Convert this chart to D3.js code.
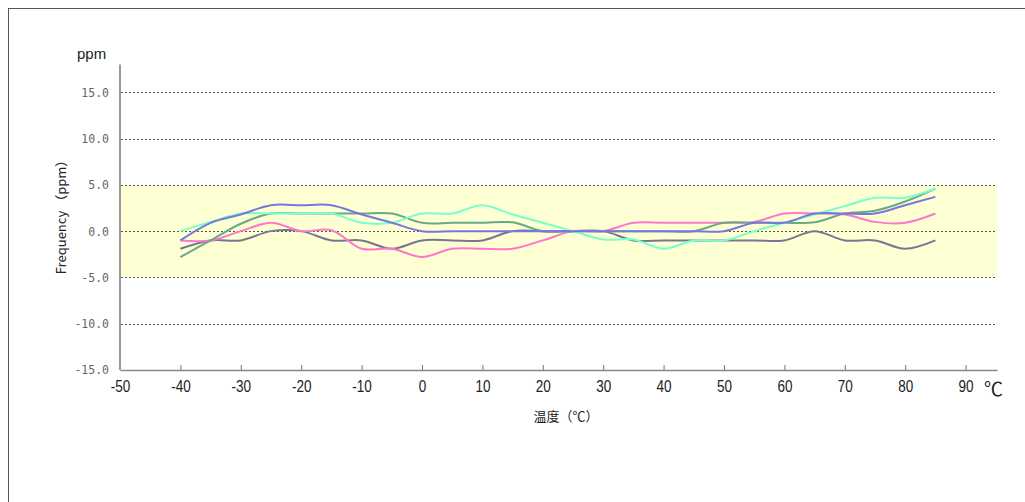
<!DOCTYPE html>
<html>
<head>
<meta charset="utf-8">
<script src="https://cdn.jsdelivr.net/npm/d3@7.9.0/dist/d3.min.js"></script>
<style>
  html, body { margin: 0; padding: 0; background: #fff; }
  svg { display: block; }
</style>
</head>
<body>
<svg id="chart" width="1025" height="502"></svg>
<script>
// temperatures (°C) where each sample was taken
const temps = [-40, -35, -30, -25, -20, -15, -10, -5, 0, 5, 10, 15, 20, 25, 30, 35, 40, 45, 50, 55, 60, 65, 70, 75, 80, 85];

// frequency deviation (ppm) for each sample
const seriesBlue  = [-1, 0.9, 1.8, 2.8, 2.8, 2.8, 1.8, 0.9, 0, 0, 0, 0, 0, 0, 0, 0, 0, 0, 0, 0.9, 0.9, 1.9, 1.9, 1.9, 2.8, 3.7];
const seriesAqua  = [0, 1, 1.9, 1.9, 1.9, 1.9, 0.9, 0.9, 1.9, 1.9, 2.8, 1.8, 0.9, 0, -0.9, -0.9, -1.9, -1, -1, 0, 0.9, 1.8, 2.7, 3.6, 3.6, 4.6];
const seriesGreen = [-2.8, -1, 0.8, 1.9, 1.9, 1.9, 1.9, 1.9, 0.9, 0.9, 0.9, 0.95, 0, 0, 0, 0, 0, 0, 0.9, 0.9, 0.9, 0.95, 1.9, 2.2, 3.2, 4.6];
const seriesPink  = [-1, -1, 0, 0.9, 0, 0.1, -1.9, -1.9, -2.8, -1.9, -1.9, -1.9, -1, 0, 0, 0.9, 0.9, 0.9, 0.9, 1.0, 1.9, 1.9, 1.8, 1.0, 0.9, 1.9];
const seriesGray  = [-1.9, -1, -1, 0, 0, -1, -1, -1.9, -1, -1, -1, 0, 0, 0, 0, -1, -1, -1, -1, -1, -1, 0, -1, -1, -1.9, -1];

const xTicks = [-50, -40, -30, -20, -10, 0, 10, 20, 30, 40, 50, 60, 70, 80, 90];
const yTicks = [-15, -10, -5, 0, 5, 10, 15];
const bandRange = [-5, 5];

const series = [
  { values: seriesGray,  color: '#77778f' },
  { values: seriesPink,  color: '#ff77cc' },
  { values: seriesGreen, color: '#66aa88' },
  { values: seriesAqua,  color: '#77ffcc' },
  { values: seriesBlue,  color: '#7878dc' },
];

const svg = d3.select('#chart');

// outer frame
svg.append('rect')
  .attr('x', 8.5).attr('y', 8.5)
  .attr('width', 1100).attr('height', 600)
  .attr('fill', 'none')
  .attr('stroke', '#555')
  .attr('stroke-width', 1);

const x = d3.scaleLinear().domain([-50, 95.2]).range([120, 997]);
const y = d3.scaleLinear().domain([-15, 18]).range([370, 64.5]);

// tolerance band
svg.append('rect')
  .attr('x', x(-50) + 1)
  .attr('y', y(bandRange[1]))
  .attr('width', x(95.2) - x(-50) - 1)
  .attr('height', y(bandRange[0]) - y(bandRange[1]))
  .attr('fill', '#ffffd4');

// dashed grid lines
svg.append('g')
  .selectAll('line')
  .data(yTicks.filter(d => d > -15))
  .join('line')
  .attr('x1', x(-50) + 1)
  .attr('x2', x(95.2))
  .attr('y1', d => Math.round(y(d)) + 0.5)
  .attr('y2', d => Math.round(y(d)) + 0.5)
  .attr('stroke', '#555')
  .attr('stroke-width', 1)
  .attr('stroke-dasharray', '2,2');

// lines
const line = d3.line()
  .x((d, i) => x(temps[i]))
  .y(d => y(d))
  .curve(d3.curveCatmullRom.alpha(0.5));

svg.append('g')
  .selectAll('path')
  .data(series)
  .join('path')
  .attr('d', d => line(d.values))
  .attr('fill', 'none')
  .attr('stroke', d => d.color)
  .attr('stroke-width', 2)
  .attr('stroke-linejoin', 'round');

// x axis
const xAxis = svg.append('g')
  .attr('transform', `translate(0,${y(-15)})`)
  .call(d3.axisBottom(x).tickValues(xTicks).tickSize(-5).tickSizeOuter(0).tickFormat(d => d));

xAxis.select('.domain').attr('stroke', '#888').attr('stroke-width', 1.5);
xAxis.selectAll('.tick line').attr('stroke', '#777');
xAxis.selectAll('.tick text')
  .attr('y', 17.6)
  .attr('dy', 0)
  .attr('transform', 'scale(1,1.25)')
  .attr('fill', '#222')
  .style('font-family', '"Liberation Sans", Arial, sans-serif')
  .style('font-size', '13.5px');

// y axis line
svg.append('line')
  .attr('x1', x(-50)).attr('x2', x(-50))
  .attr('y1', y(18)).attr('y2', y(-15))
  .attr('stroke', '#999')
  .attr('stroke-width', 2);

// y tick labels
svg.append('g')
  .selectAll('text')
  .data(yTicks)
  .join('text')
  .attr('x', 109)
  .attr('y', d => y(d))
  .attr('dy', '0.38em')
  .attr('text-anchor', 'end')
  .attr('fill', '#666')
  .style('font-family', '"DejaVu Sans Mono", "Liberation Mono", monospace')
  .style('font-size', '11.5px')
  .text(d => d.toFixed(1));

// axis titles
svg.append('text')
  .attr('x', 77).attr('y', 59)
  .attr('fill', '#222')
  .style('font-family', '"Liberation Sans", Arial, sans-serif')
  .style('font-size', '15px')
  .text('ppm');

svg.append('text')
  .attr('transform', 'translate(66,214) rotate(-90)')
  .attr('text-anchor', 'middle')
  .attr('fill', '#222')
  .style('font-family', '"Noto Sans CJK JP", sans-serif')
  .style('font-size', '13px')
  .text('Frequency （ppm）');

svg.append('text')
  .attr('x', 566).attr('y', 421)
  .attr('text-anchor', 'middle')
  .attr('fill', '#222')
  .style('font-family', '"Noto Sans CJK JP", sans-serif')
  .style('font-size', '13px')
  .text('温度（℃）');

svg.append('text')
  .attr('x', 984).attr('y', 396)
  .attr('fill', '#222')
  .style('font-family', '"Noto Sans CJK JP", sans-serif')
  .style('font-size', '19px')
  .text('℃');
</script>
</body>
</html>
